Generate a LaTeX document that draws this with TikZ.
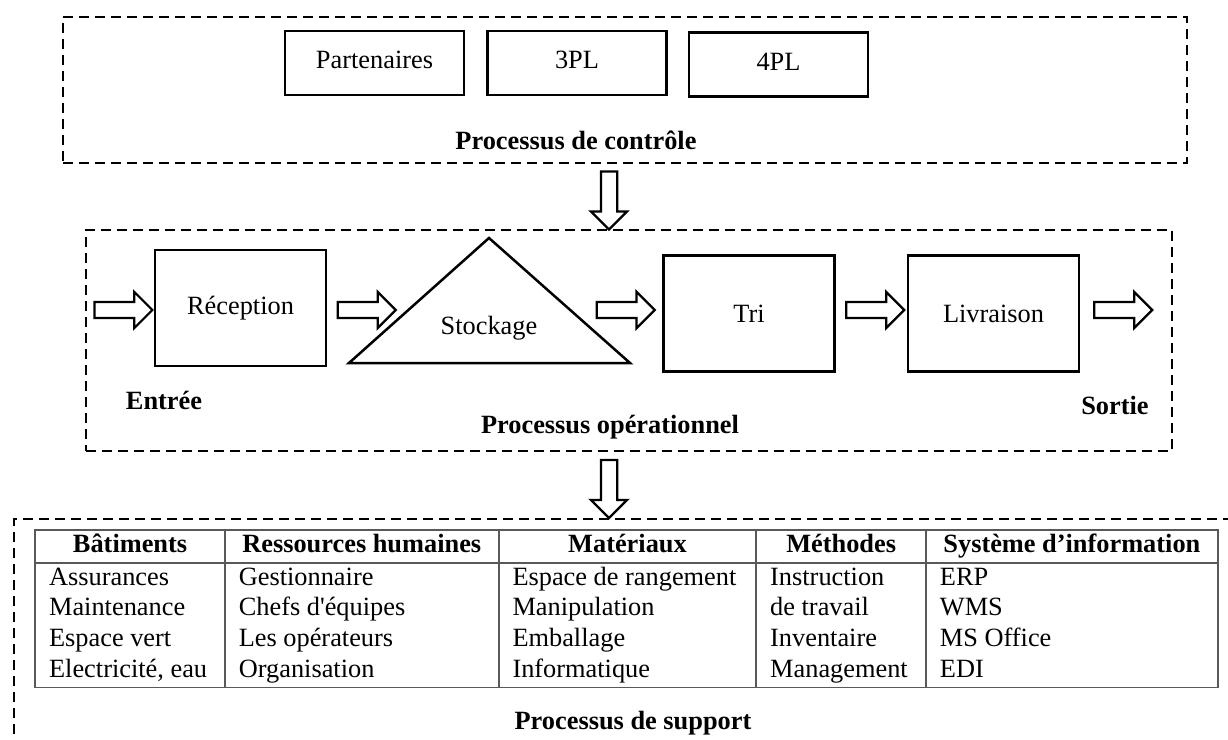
\documentclass[tikz,border=0pt]{standalone}
\usepackage{fontspec}
\setmainfont{Liberation Serif}
\usepackage{array}
\usepackage{colortbl}
\usetikzlibrary{shapes.arrows}
\setlength{\tabcolsep}{0.26cm}
\setlength{\arrayrulewidth}{0.035cm}
\arrayrulecolor{black!65}
\tikzset{
	dashbox/.style={draw, line width=0.05cm, dash pattern=on 0.2cm off 0.12cm, inner sep=0},
	petitbox/.style={draw, line width=0.05cm, minimum width=3.58cm, minimum height=1.28cm, text depth=0.12cm},
	procbox/.style={draw, line width=0.05cm, minimum width=3.42cm, minimum height=2.32cm},
	harrow/.style={draw, single arrow, line width=0.045cm, minimum height=1.16cm, inner sep=0.14cm, single arrow head extend=0.2cm, fill=white},
	varrow/.style={harrow, shape border rotate=270},
	titre/.style={font=\fontsize{15}{17.5}\selectfont\bfseries},
}
\begin{document}
\begin{tikzpicture}[line cap=butt,line join=miter,x=0.02cm,y=-0.02cm,font=\fontsize{15}{17.5}\selectfont]
			\useasboundingbox (0,0) rectangle (1228,740);
			\clip (0,0) rectangle (1228,740);
			\node[dashbox, minimum width=22.48cm, minimum height=2.92cm] (ctrlbox) at (625,90) {};
			\node[dashbox, minimum width=21.72cm, minimum height=4.42cm] (opbox) at (629,340.5) {};
			\node[dashbox, minimum width=24.72cm, minimum height=5.02cm] (suppbox) at (632,644.5) {};
			\coordinate (ax) at (609,0);
			\node[petitbox] (partn) at (374.5,63) {Partenaires};
			\node[petitbox] (pl3) at (577,63) {3PL};
			\node[petitbox] (pl4) at (778.5,64.5) {4PL};
			\node[titre] (ctrltitre) at (576,140) {Processus de contrôle};
			\path (ctrlbox.south -| ax) -- node[varrow] (bas1) {} (opbox.north -| ax);
			\node[procbox] (recep) at (240.5,308) {Réception};
			\coordinate (apex) at (489,238);
			\coordinate (stoL) at (408,310);
			\coordinate (stoR) at (570,310);
			\draw[line width=0.05cm] (apex) -- (630,363) -- (349,363) -- cycle;
			\node (stock) at (489,328) {Stockage};
			\node[procbox] (tri) at (749,313.5) {Tri};
			\node[procbox] (livr) at (993.5,313.5) {Livraison};
			\path (opbox.west |- stoL) -- node[harrow] (fl0) {} (recep.west |- stoL);
			\path (recep.east |- stoL) -- node[harrow, pos=0.44] (fl1) {} (stoL);
			\path (stoR) -- node[harrow, pos=0.56] (fl2) {} (tri.west |- stoR);
			\path (tri.east |- stoR) -- node[harrow] (fl3) {} (livr.west |- stoR);
			\path (livr.east |- stoR) -- node[harrow, pos=0.42] (fl4) {} (opbox.east |- stoR);
			\node[titre] (entree) at (164,400) {Entrée};
			\node[titre] (sortie) at (1115,405) {Sortie};
			\node[titre] (optitre) at (610,427) {Processus opérationnel};
			\path (opbox.south -| ax) -- node[varrow] (bas2) {} (suppbox.north -| ax);
			\node[anchor=north west, inner sep=0] (tab) at (34,529) {%
				\begin{tabular}{|w{l}{3.24cm}|w{l}{4.92cm}|w{l}{4.6cm}|w{l}{2.84cm}|w{l}{5.28cm}|}
					\hline
					\multicolumn{1}{|c|}{\textbf{Bâtiments}} & \multicolumn{1}{c|}{\textbf{Ressources humaines}} & \multicolumn{1}{c|}{\textbf{Matériaux}} & \multicolumn{1}{c|}{\textbf{Méthodes}} & \multicolumn{1}{c|}{\textbf{Système d’information}} \\
					\hline
					Assurances & Gestionnaire & Espace de rangement & Instruction & ERP \\
					Maintenance & Chefs d\textquotesingle équipes & Manipulation & de travail & WMS \\
					Espace vert & Les opérateurs & Emballage & Inventaire & MS Office \\
					Electricité, eau & Organisation & Informatique & Management & EDI \\
					\hline
				\end{tabular}};
			\node[titre] (supptitre) at (633,723) {Processus de support};
		\end{tikzpicture}
\end{document}
